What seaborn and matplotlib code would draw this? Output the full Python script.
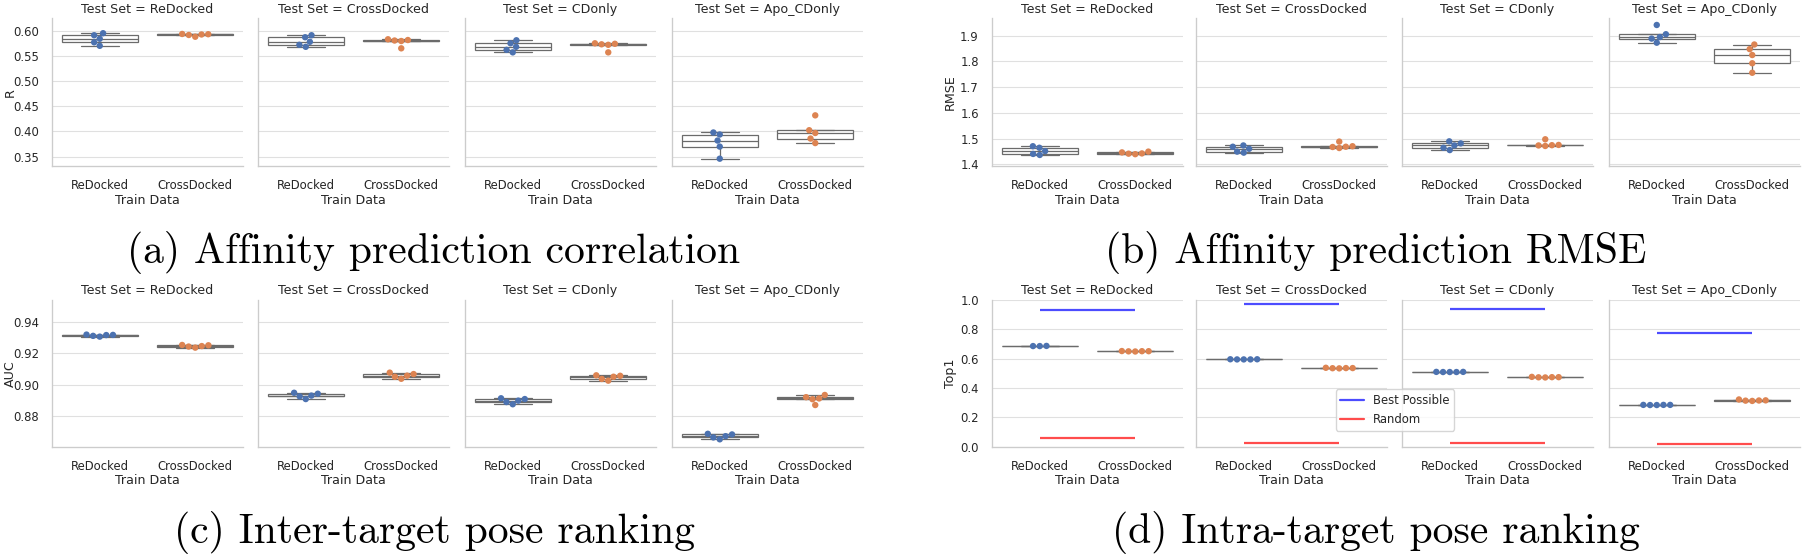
import matplotlib
matplotlib.use("Agg")
import numpy as np
import pandas as pd
import seaborn as sns
import matplotlib.pyplot as plt
from matplotlib.lines import Line2D

# ---------------- data ----------------
test_sets = ["ReDocked", "CrossDocked", "CDonly", "Apo_CDonly"]
train_sets = ["ReDocked", "CrossDocked"]

R_train_redocked = [
    [0.570, 0.577, 0.584, 0.591, 0.595],
    [0.568, 0.572, 0.578, 0.587, 0.591],
    [0.557, 0.562, 0.568, 0.575, 0.581],
    [0.346, 0.370, 0.382, 0.394, 0.398],
]
R_train_crossdocked = [
    [0.588, 0.5915, 0.5925, 0.5930, 0.5935],
    [0.565, 0.5795, 0.5805, 0.5815, 0.583],
    [0.557, 0.572, 0.573, 0.574, 0.575],
    [0.377, 0.386, 0.397, 0.4025, 0.432],
]

RMSE_train_redocked = [
    [1.436, 1.440, 1.451, 1.464, 1.470],
    [1.445, 1.449, 1.460, 1.468, 1.473],
    [1.455, 1.464, 1.473, 1.481, 1.489],
    [1.873, 1.889, 1.895, 1.906, 1.942],
]
RMSE_train_crossdocked = [
    [1.439, 1.441, 1.442, 1.446, 1.449],
    [1.463, 1.467, 1.468, 1.470, 1.488],
    [1.471, 1.473, 1.474, 1.475, 1.497],
    [1.756, 1.793, 1.825, 1.848, 1.866],
]

AUC_train_redocked = [
    [0.9305, 0.9310, 0.9315, 0.9316, 0.9318],
    [0.8908, 0.8925, 0.8930, 0.8942, 0.8948],
    [0.8875, 0.8889, 0.8898, 0.8908, 0.8913],
    [0.8652, 0.8664, 0.8672, 0.8683, 0.8687],
]
AUC_train_crossdocked = [
    [0.9235, 0.9242, 0.9245, 0.9250, 0.9252],
    [0.9037, 0.9050, 0.9057, 0.9067, 0.9076],
    [0.9025, 0.9036, 0.9050, 0.9056, 0.9059],
    [0.8870, 0.8907, 0.8912, 0.8920, 0.8934],
]

Top1_train_redocked = [
    [0.686, 0.686, 0.687],
    [0.595, 0.595, 0.595, 0.596, 0.596],
    [0.509, 0.509, 0.509, 0.510, 0.510],
    [0.284, 0.284, 0.285, 0.285, 0.285],
]
Top1_train_crossdocked = [
    [0.649, 0.650, 0.651, 0.651, 0.652],
    [0.534, 0.535, 0.536, 0.536, 0.538],
    [0.472, 0.473, 0.474, 0.474, 0.476],
    [0.312, 0.314, 0.315, 0.316, 0.322],
]

best_possible = [0.930, 0.973, 0.939, 0.777]
random_baseline = [0.062, 0.027, 0.027, 0.018]

captions = ["(a) Affinity prediction correlation",
            "(b) Affinity prediction RMSE",
            "(c) Inter-target pose ranking",
            "(d) Intra-target pose ranking"]

# ---------------- long-form table ----------------
metric_data = {
    "R": (R_train_redocked, R_train_crossdocked),
    "RMSE": (RMSE_train_redocked, RMSE_train_crossdocked),
    "AUC": (AUC_train_redocked, AUC_train_crossdocked),
    "Top1": (Top1_train_redocked, Top1_train_crossdocked),
}
rows = []
for metric, (rd, cd) in metric_data.items():
    for i, ts in enumerate(test_sets):
        for tr, vals in zip(train_sets, (rd[i], cd[i])):
            for v in vals:
                rows.append({"Metric": metric, "Test Set": ts, "Train Data": tr, "Value": v})
df = pd.DataFrame(rows)

# ---------------- style ----------------
sns.set_theme(style="whitegrid", context="notebook", font_scale=0.76,
              rc={"axes.linewidth": 0.95, "grid.linewidth": 0.8,
                  "lines.linewidth": 1.1, "axes.edgecolor": ".8",
                  "grid.color": ".88"})
plt.rcParams["font.family"] = ["DejaVu Sans"]

W, H = 1810, 559
fig = plt.figure(figsize=(W / 100, H / 100), dpi=100)

palette = sns.color_palette("deep")[:2]

left_x = [52, 258, 465, 672]
right_x = [992, 1196, 1402, 1609]
top_row = (18.3, 166.0)
bot_row = (300.0, 446.7)

panels = [
    ("R", left_x, 191, top_row, (0.3315, 0.6246)),
    ("RMSE", right_x, 191, top_row, (1.393, 1.968)),
    ("AUC", left_x, 191, bot_row, (0.8605, 0.9538)),
    ("Top1", right_x, 191, bot_row, (0.0, 1.0)),
]

for metric, xs, w, (yt, yb), ylim in panels:
    for i, ts in enumerate(test_sets):
        ax = fig.add_axes([xs[i] / W, 1 - yb / H, w / W, (yb - yt) / H])
        sub = df[(df["Metric"] == metric) & (df["Test Set"] == ts)]
        ax.set_ylim(*ylim)
        sns.boxplot(data=sub, x="Train Data", y="Value", order=train_sets,
                    color="white", linecolor="0.42", linewidth=0.9, width=0.8,
                    showfliers=False, ax=ax)
        if metric == "Top1":
            ax.hlines(best_possible[i], 0, 1, color="blue", alpha=0.7, lw=1.6, zorder=3)
            ax.hlines(random_baseline[i], 0, 1, color="red", alpha=0.7, lw=1.6, zorder=3)
        sns.swarmplot(data=sub, x="Train Data", y="Value", order=train_sets,
                      hue="Train Data", hue_order=train_sets, palette=palette,
                      size=4.6, legend=False, ax=ax)
        ax.set_ylim(*ylim)
        ax.set_xlim(-0.5, 1.5)
        ax.set_title(f"Test Set = {ts}", pad=4)
        ax.set_xlabel("Train Data", labelpad=1)
        if i == 0:
            ax.set_ylabel(metric)
            ax.yaxis.set_label_coords(-0.185, 0.5)
        else:
            ax.set_ylabel("")
            ax.tick_params(labelleft=False)
        ax.grid(False, axis="x")
        sns.despine(ax=ax)

handles = [Line2D([], [], color="blue", alpha=0.7, lw=1.6),
           Line2D([], [], color="red", alpha=0.7, lw=1.6)]
fig.legend(handles, ["Best Possible", "Random"], loc="center",
           bbox_to_anchor=(1395 / W, 1 - 410 / H), fontsize=8.4, frameon=True)

cap_pos = [(434, 263), (1376, 263), (434, 543), (1376, 543)]
for text, (cx, cy) in zip(captions, cap_pos):
    fig.text(cx / W, 1 - cy / H, text, family="cmr10", fontsize=30,
             ha="center", va="baseline", color="black")

fig.savefig("out.png", dpi=100)
